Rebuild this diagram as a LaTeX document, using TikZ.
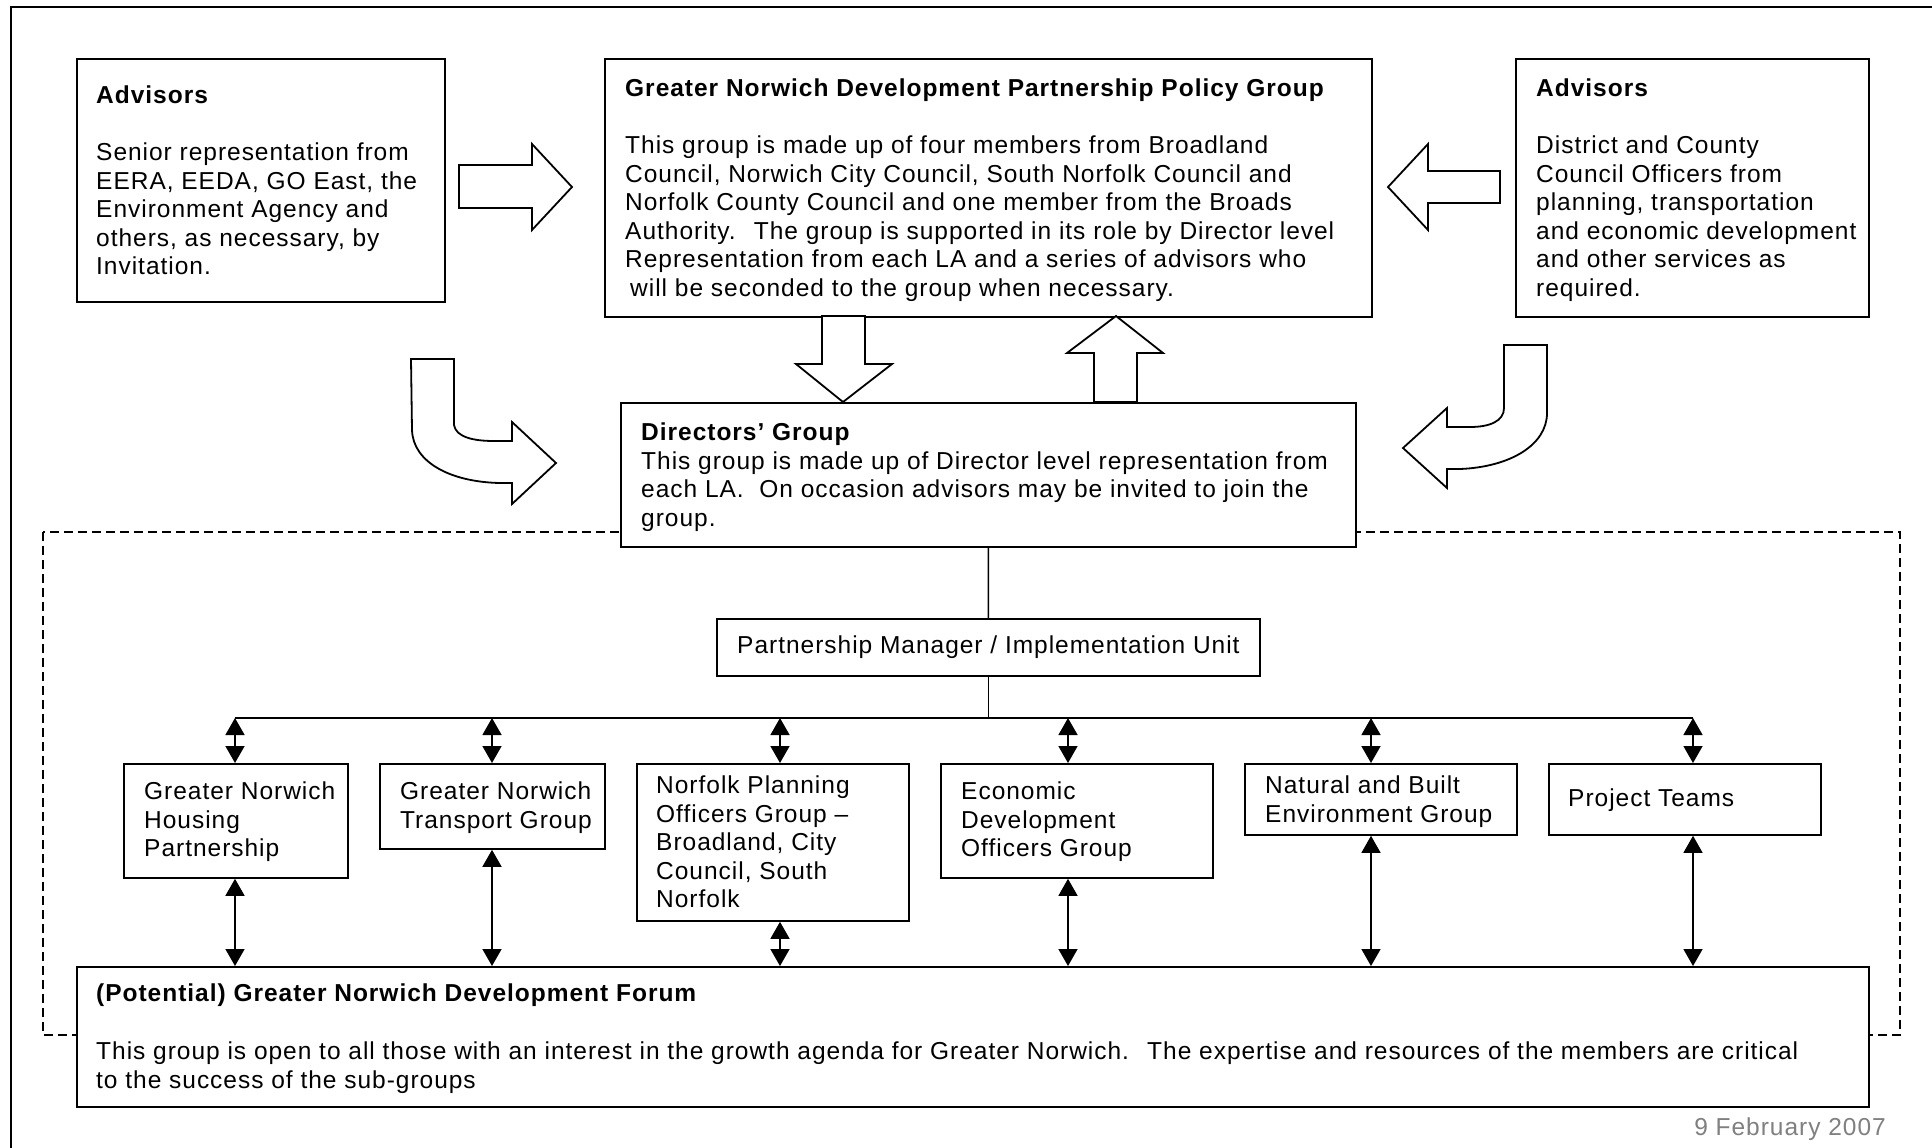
\documentclass[tikz,border=0pt]{standalone}
\usepackage{fontspec}
\setmainfont{Liberation Sans}[LetterSpace=4]
\usetikzlibrary{arrows.meta}
\definecolor{datecol}{RGB}{128,128,128}
\newcommand{\bodyfont}{\fontsize{24.5bp}{28.5bp}\selectfont}
\begin{document}
\begin{tikzpicture}[x=1bp,y=-1bp,
  box/.style={draw, line width=1.8bp, fill=white, inner sep=0pt, anchor=north west},
  txt/.style={anchor=north west, inner sep=0pt, align=left, font=\bodyfont},
  blk/.style={draw, line width=1.8bp, fill=white, line join=miter},
  link/.style={line width=1.5bp},
  dlink/.style={line width=1.5bp, {Triangle[length=17bp,width=19bp]}-{Triangle[length=17bp,width=19bp]}},
  frame/.style={line width=2.6bp},
  dashframe/.style={line width=1.8bp, dash pattern=on 9bp off 5bp}
]
\useasboundingbox (0,0) rectangle (1932,1147);
\fill[white] (0,0) rectangle (1932,1147);
% outer frame (cut by the page edge at right and bottom)
\draw[frame] (1960,7) -- (11,7) -- (11,1170);
% dashed frame
\draw[dashframe] (43,532) rectangle (1900,1035);

% boxes
\node[box, minimum width=368bp, minimum height=243bp] (adv1) at (76,58) {};
\node[box, minimum width=767bp, minimum height=258bp] (pol) at (604,58) {};
\node[box, minimum width=353bp, minimum height=258bp] (adv2) at (1515,58) {};
\node[box, minimum width=735bp, minimum height=144bp] (dir) at (620,402) {};
\node[box, minimum width=543bp, minimum height=57bp, font=\bodyfont] (pm) at (716,618) {Partnership Manager / Implementation Unit};
\node[box, minimum width=224bp, minimum height=114bp] (h1) at (123,763) {};
\node[box, minimum width=225bp, minimum height=85bp] (h2) at (379,763) {};
\node[box, minimum width=272bp, minimum height=157bp] (h3) at (636,763) {};
\node[box, minimum width=272bp, minimum height=114bp] (h4) at (940,763) {};
\node[box, minimum width=272bp, minimum height=71bp] (h5) at (1244,763) {};
\node[box, minimum width=272bp, minimum height=71bp] (h6) at (1548,763) {};
\node[box, minimum width=1792bp, minimum height=140bp] (forum) at (76,966) {};

% texts
\node[txt] (adv1t) at (96,86) {\bfseries Advisors};
\node[txt] (adv1b) at (96,143) {Senior representation from\\EERA, EEDA, GO East, the\\Environment Agency and\\others, as necessary, by\\Invitation.};
\node[txt] (polt) at (625,78.5) {\bfseries Greater Norwich Development Partnership Policy Group};
\node[txt] (polb) at (625,136) {This group is made up of four members from Broadland\\Council, Norwich City Council, South Norfolk Council and\\Norfolk County Council and one member from the Broads\\Authority.~ The group is supported in its role by Director level\\Representation from each LA and a series of advisors who\\\hspace*{5bp}will be seconded to the group when necessary.};
\node[txt] (adv2t) at (1536,78.5) {\bfseries Advisors};
\node[txt] (adv2b) at (1536,136) {District and County\\Council Officers from\\planning, transportation\\and economic development\\and other services as\\required.};
\node[txt] (dirt) at (641,423) {\textbf{Directors’ Group}\\This group is made up of Director level representation from\\each LA.~ On occasion advisors may be invited to join the\\group.};
\node[txt] (h1t) at (144,782) {Greater Norwich\\Housing\\Partnership};
\node[txt] (h2t) at (400,782) {Greater Norwich\\Transport Group};
\node[txt] (h3t) at (656,776) {Norfolk Planning\\Officers Group –\\Broadland, City\\Council, South\\Norfolk};
\node[txt] (h4t) at (961,782) {Economic\\Development\\Officers Group};
\node[txt] (h5t) at (1265,776) {Natural and Built\\Environment Group};
\node[txt] (h6t) at (1568,789) {Project Teams};
\node[txt] (fort) at (96,984) {\bfseries (Potential) Greater Norwich Development Forum};
\node[txt] (forb) at (96,1042) {This group is open to all those with an interest in the growth agenda for Greater Norwich.~ The expertise and resources of the members are critical\\to the success of the sub-groups};
\node[anchor=base east, inner sep=0pt, text=datecol, font=\bodyfont] (date) at (1886,1135.5) {9 February 2007};

% block arrows
\draw[blk] (459,165) -- (532,165) -- (532,144) -- (572,187) -- (532,230) -- (532,208) -- (459,208) -- cycle;
\draw[blk] (1388,187) -- (1428,144) -- (1428,171) -- (1500,171) -- (1500,203) -- (1428,203) -- (1428,230) -- cycle;
\draw[blk] (822,316) -- (865,316) -- (865,364) -- (892,364) -- (843,402) -- (796,364) -- (822,364) -- cycle;
\draw[blk] (1094,402) -- (1094,353) -- (1067,353) -- (1116,316) -- (1163,353) -- (1137,353) -- (1137,402) -- cycle;
\draw[blk] (411,359) -- (454,359) -- (454,425) .. controls (456,437) and (473,441) .. (494,441) -- (512,441) -- (512,422) -- (556,463) -- (512,504) -- (512,483) -- (500,483) .. controls (450,482) and (413,462) .. (412,430) -- cycle;
\draw[blk] (1547,345) -- (1504,345) -- (1504,408) .. controls (1504,421) and (1490,427) .. (1470,427) -- (1447,427) -- (1447,408) -- (1403,448) -- (1447,488) -- (1447,469) -- (1460,469) .. controls (1510,467) and (1547,445) .. (1547,413) -- cycle;

% connectors
\coordinate (b1) at (235,718);
\coordinate (b2) at (492,718);
\coordinate (b3) at (780,718);
\coordinate (b4) at (1068,718);
\coordinate (b5) at (1371,718);
\coordinate (b6) at (1693,718);
\draw[link] (dir.south) -- (pm.north);
\draw[link] (pm.south) -- (pm.south |- b1);
\draw[link] (b1) -- (b6);
\foreach \b/\h in {b1/h1,b2/h2,b3/h3,b4/h4,b5/h5,b6/h6}{
  \draw[dlink] (\b) -- (\b |- \h.north);
  \draw[dlink] (\b |- \h.south) -- (\b |- forum.north);
}
\end{tikzpicture}
\end{document}
